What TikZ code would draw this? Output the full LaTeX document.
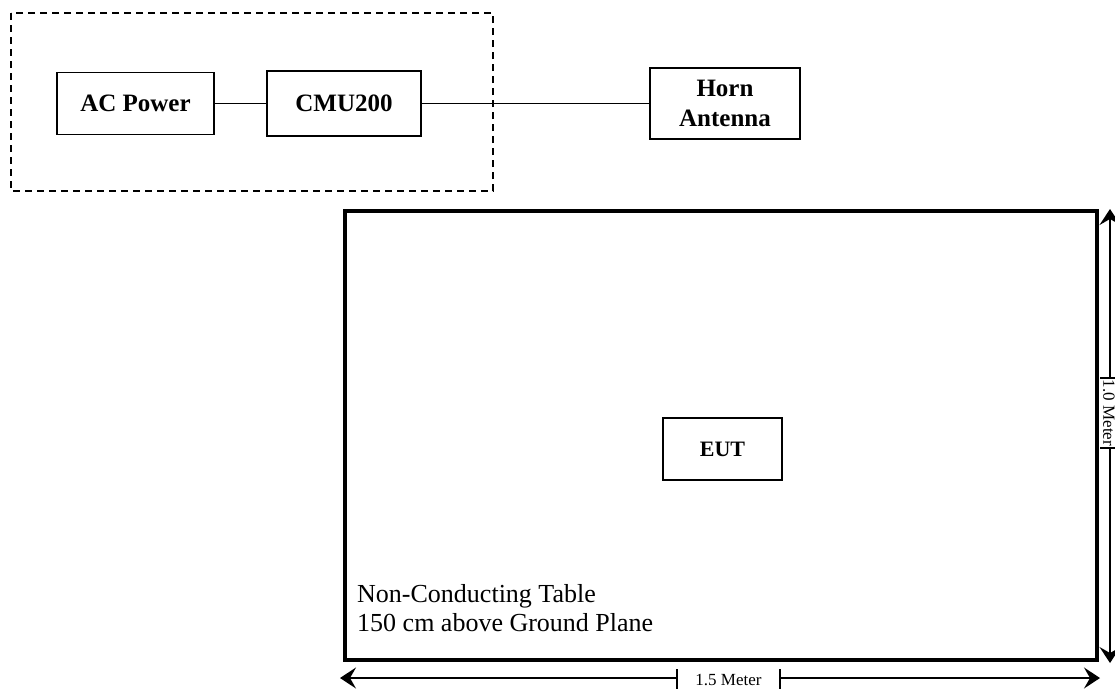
\documentclass[tikz,border=0pt]{standalone}
\usepackage{fontspec}
\setmainfont{Liberation Serif}
\usepackage{tikz}
\usetikzlibrary{positioning}
\usetikzlibrary{arrows.meta}
\tikzset{unitbox/.style={draw, line width=1.7pt, inner sep=0pt, font=\fontsize{25}{30}\selectfont\bfseries, align=center}}
\tikzset{dimline/.style={line width=1.6pt}}
\tikzset{barb/.tip={Stealth[length=16pt,width=21pt,inset=6pt]}}

\begin{document}
\begin{tikzpicture}[x=1pt,y=-1pt]
\useasboundingbox (0,0) rectangle (1115,689);
\draw[line width=1.5pt, dash pattern=on 7pt off 5pt] (11,13) rectangle (493,191);
\node[unitbox, minimum width=157pt, minimum height=62pt] (acpower) at (135.5,103.5) {AC Power};
\node[unitbox, minimum width=154pt, minimum height=65pt] (cmu) at (344,103.5) {CMU200};
\node[unitbox, minimum width=150pt, minimum height=71pt] (horn) at (725,103.5) {Horn\\Antenna};
\draw[line width=1.7pt] (acpower.east) -- (cmu.west);
\draw[line width=1.7pt] (cmu.east) -- (horn.west |- cmu.east);
% table
\node[draw, line width=3.2pt, minimum width=752pt, minimum height=449pt] (table) at (721,435.5) {};
\node[unitbox, font=\fontsize{22}{26}\selectfont\bfseries, minimum width=119pt, minimum height=62pt] (eut) at (722.5,449) {EUT};
\node[anchor=south west, align=left, font=\fontsize{26}{29}\selectfont, inner sep=0pt] (tablelabel) at (357,632) {Non-Conducting Table\\150 cm above Ground Plane};
% dimensions
\coordinate (bl) at (340,678);
\coordinate (br) at (1100,678);
\coordinate (bgl) at (677,678);
\coordinate (bgr) at (780,678);
\node[font=\fontsize{17}{20}\selectfont, inner sep=0pt] (wlabel) at (728.5,680) {1.5 Meter};
\draw[dimline, barb-] (bl) -- (bgl);
\draw[dimline, -barb] (bgr) -- (br);
\draw[dimline] (677,669) -- (677,689);
\draw[dimline] (780,669) -- (780,689);
\coordinate (rt) at (1110,209);
\coordinate (rb) at (1110,663);
\coordinate (rgt) at (1110,378);
\coordinate (rgb) at (1110,448);
\node[font=\fontsize{17}{20}\selectfont, inner sep=0pt, rotate=-90] (hlabel) at (1109,413) {1.0 Meter};
\draw[dimline, barb-] (rt) -- (rgt);
\draw[dimline, -barb] (rgb) -- (rb);
\draw[dimline] (1100,378) -- (1115,378);
\draw[dimline] (1100,448) -- (1115,448);
\end{tikzpicture}
\end{document}
